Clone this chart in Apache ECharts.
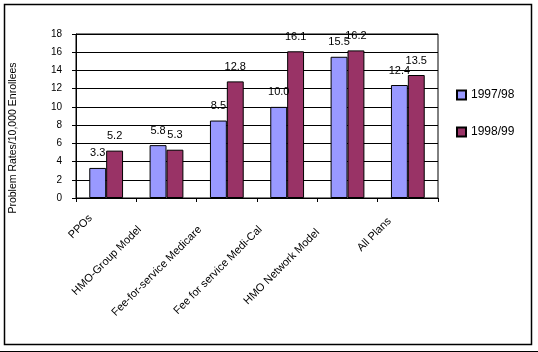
<!DOCTYPE html>
<html>
<head>
<meta charset="utf-8">
<script src="https://cdn.jsdelivr.net/npm/echarts@6/dist/echarts.min.js"></script>
<style>
html,body{margin:0;padding:0;background:#fff;}
#c{width:538px;height:352px;}
</style>
</head>
<body>
<div id="c"></div>
<script>
const categories = ['PPOs', 'HMO-Group Model', 'Fee-for-service Medicare', 'Fee for service Medi-Cal', 'HMO Network Model', 'All Plans'];
const seriesNames = ['1997/98', '1998/99'];
const values9798 = [3.3, 5.8, 8.5, 10.0, 15.5, 12.4];
const values9899 = [5.2, 5.3, 12.8, 16.1, 16.2, 13.5];
const yTicks = [0, 2, 4, 6, 8, 10, 12, 14, 16, 18];
const yTitle = 'Problem Rates/10,000 Enrollees';

const font = 'Arial, "Liberation Sans", sans-serif';
const chart = echarts.init(document.getElementById('c'), null, {renderer: 'canvas'});
chart.setOption({
  animation: false,
  backgroundColor: '#fff',
  textStyle: {fontFamily: font, color: '#000'},
  grid: {left: 74, right: 100, top: 34, bottom: 154, show: true, borderColor: '#000', borderWidth: 1},
  legend: {
    orient: 'vertical', left: 451, top: 84, itemWidth: 9, itemHeight: 9, itemGap: 25,
    icon: 'rect',
    textStyle: {fontSize: 12, fontFamily: font, color: '#000'},
    data: seriesNames
  },
  xAxis: {
    type: 'category', data: categories,
    axisLine: {lineStyle: {color: '#000', width: 1}},
    axisTick: {show: true, length: 4, lineStyle: {color: '#000'}},
    axisLabel: {
      rotate: 45, interval: 0, fontSize: 11, color: '#000', fontFamily: font, margin: 3,
      formatter: (v, i) => '{p' + i + '|' + v + '}',
      rich: {
        p0: {padding: [0, 22, 0, 0], fontSize: 11},
        p1: {padding: [0, 38, 0, 0], fontSize: 11},
        p2: {padding: [0, 38, 0, 0], fontSize: 11},
        p3: {padding: [0, 38, 0, 0], fontSize: 11},
        p4: {padding: [0, 42, 0, 0], fontSize: 11},
        p5: {padding: [0, 26, 0, 0], fontSize: 11}
      }
    }
  },
  yAxis: {
    type: 'value', min: yTicks[0], max: yTicks[yTicks.length - 1], interval: 2,
    name: yTitle, nameLocation: 'middle', nameGap: 57, nameRotate: 90,
    nameTextStyle: {fontSize: 10.5, color: '#000', fontFamily: font, padding: [0, 44, 0, 0]},
    axisLine: {show: true, lineStyle: {color: '#000'}},
    axisTick: {show: true, length: 4, lineStyle: {color: '#000'}},
    axisLabel: {fontSize: 10, color: '#000', margin: 14, fontFamily: font},
    splitLine: {show: true, lineStyle: {color: '#000', width: 1}}
  },
  series: [
    {
      name: seriesNames[0], type: 'bar', data: values9798,
      barGap: '0%', barCategoryGap: '44%',
      itemStyle: {color: '#9999FF', borderColor: '#000', borderWidth: 1},
      label: {show: true, position: 'top', distance: 9, fontSize: 11, color: '#000', fontFamily: font,
        formatter: p => p.value.toFixed(1)}
    },
    {
      name: seriesNames[1], type: 'bar', data: values9899,
      barGap: '0%', barCategoryGap: '44%',
      itemStyle: {color: '#993366', borderColor: '#000', borderWidth: 1},
      label: {show: true, position: 'top', distance: 9, fontSize: 11, color: '#000', fontFamily: font,
        formatter: p => p.value.toFixed(1)}
    }
  ],
  graphic: [
    {type: 'rect', shape: {x: 4.5, y: 4.5, width: 527, height: 340}, style: {fill: 'none', stroke: '#000', lineWidth: 1.5}, silent: true, z: -1},
    {type: 'line', shape: {x1: 0, y1: 351.5, x2: 538, y2: 351.5}, style: {stroke: '#000', lineWidth: 1}, silent: true}
  ]
});
</script>
</body>
</html>
